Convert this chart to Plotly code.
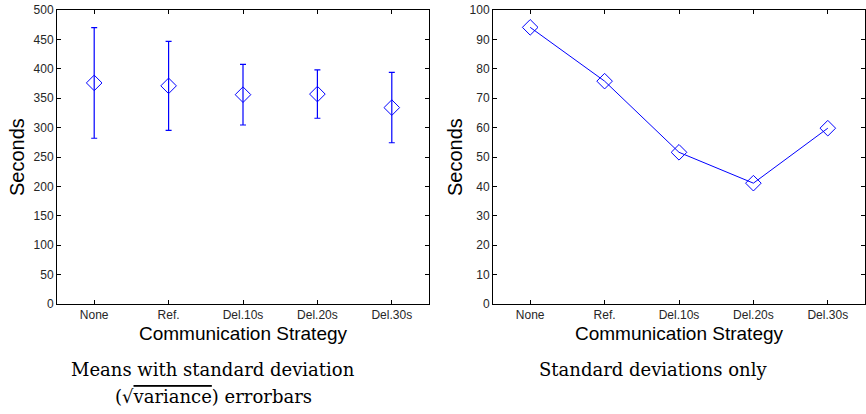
import plotly.graph_objects as go

categories = ["None", "Ref.", "Del.10s", "Del.20s", "Del.30s"]
means = [376, 371, 356, 357, 334]
std_devs = [94.1, 75.8, 51.6, 41.1, 59.8]

W, H = 866, 414
BLUE = "#0000FF"
TICK_FONT = dict(family="Liberation Sans, Arial, sans-serif", size=12, color="#262626")
LABEL_FONT = dict(family="Liberation Sans, Arial, sans-serif", size=20, color="#000000")
XLABEL_FONT = dict(family="Liberation Sans, Arial, sans-serif", size=19, color="#000000")
CAP_FONT = dict(family="DejaVu Serif, serif", size=18, color="#000000")

def px_x(x):
    return x / W

def px_y(y):
    return 1 - y / H

fig = go.Figure()

fig.add_trace(go.Scatter(
    x=categories, y=means, mode="markers",
    marker=dict(symbol="diamond-open", size=12, color=BLUE, line=dict(width=1, color=BLUE)),
    error_y=dict(type="data", array=std_devs, symmetric=True, color=BLUE, thickness=1.2, width=3),
    xaxis="x", yaxis="y", showlegend=False,
))

fig.add_trace(go.Scatter(
    x=categories, y=std_devs, mode="lines+markers",
    line=dict(color=BLUE, width=1),
    marker=dict(symbol="diamond-open", size=12, color=BLUE, line=dict(width=1, color=BLUE)),
    xaxis="x2", yaxis="y2", showlegend=False,
))

axis_common = dict(
    showline=True, linecolor="#000000", linewidth=1, mirror="ticks",
    ticks="inside", ticklen=4, tickcolor="#000000", tickwidth=1,
    showgrid=False, zeroline=False, tickfont=TICK_FONT, automargin=False,
    ticklabeloverflow="allow",
)

fig.update_layout(
    width=W, height=H,
    margin=dict(l=0, r=0, t=0, b=0, pad=0, autoexpand=False),
    paper_bgcolor="white", plot_bgcolor="white",
    xaxis=dict(domain=[px_x(57), px_x(429)], anchor="y", type="category",
               range=[-0.5, 4.5], **axis_common),
    yaxis=dict(domain=[px_y(304), px_y(10)], anchor="x", range=[0, 500],
               tickvals=list(range(0, 501, 50)), **axis_common),
    xaxis2=dict(domain=[px_x(493), px_x(865)], anchor="y2", type="category",
                range=[-0.5, 4.5], **axis_common),
    yaxis2=dict(domain=[px_y(304), px_y(10)], anchor="x2", range=[0, 100],
                tickvals=list(range(0, 101, 10)), **axis_common),
)

annotations = [
    dict(text="Seconds", x=px_x(17), y=px_y(157), textangle=-90, font=LABEL_FONT),
    dict(text="Seconds", x=px_x(455), y=px_y(157), textangle=-90, font=LABEL_FONT),
    dict(text="Communication Strategy", x=px_x(243), y=px_y(333), font=XLABEL_FONT),
    dict(text="Communication Strategy", x=px_x(679), y=px_y(333), font=XLABEL_FONT),
    dict(text="Means with standard deviation", x=px_x(213), y=px_y(369), font=CAP_FONT),
    dict(text='(√<span style="text-decoration:overline">variance</span>) errorbars',
         x=px_x(213), y=px_y(396), font=CAP_FONT),
    dict(text="Standard deviations only", x=px_x(653), y=px_y(369), font=CAP_FONT),
]
for a in annotations:
    a.update(xref="paper", yref="paper", showarrow=False, xanchor="center", yanchor="middle")
    fig.add_annotation(**a)

# The page body would otherwise keep the browser's default 8px margin
fig.write_html("out.html", config={"displayModeBar": False},
               post_script="document.body.style.margin='0';")
